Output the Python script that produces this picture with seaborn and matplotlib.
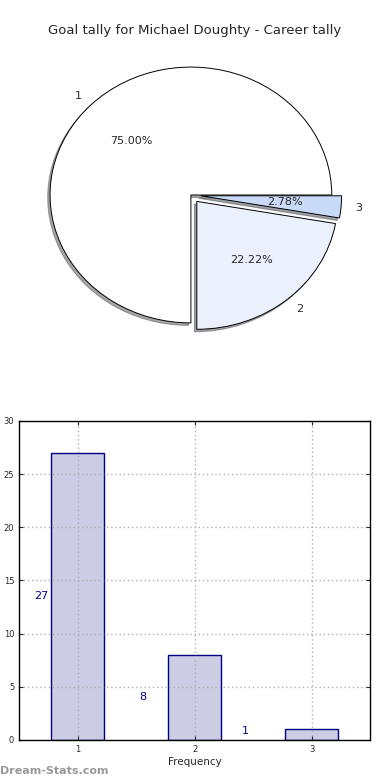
import matplotlib
matplotlib.use("Agg")
import matplotlib.pyplot as plt
import pandas as pd
import seaborn as sns

# goals scored in a match and how many matches
goals = [1, 2, 3]
matches = [27, 8, 1]
pie_labels = ["1", "2", "3"]
pie_colors = ["#ffffff", "#eaf0fc", "#c9daf8"]
explode = [0, 0.065, 0.07]

title = "Goal tally for Michael Doughty - Career tally"

sns.set_style("white")
plt.rcParams["font.family"] = ["DejaVu Sans"]

fig = plt.figure(figsize=(3.9, 7.8), dpi=100)

# pie on top
ax1 = fig.add_axes([0.038, 0.545, 0.903, 0.41])
wedges, texts, autotexts = ax1.pie(
    matches, labels=pie_labels, colors=pie_colors, explode=explode,
    autopct="%.2f%%", startangle=0,
    shadow={"ox": -0.012, "oy": -0.014, "shade": 0.7},
    wedgeprops={"edgecolor": "black", "linewidth": 0.7},
    textprops={"fontsize": 8},
)
ax1.set_aspect("auto")
ax1.set_xlim(-1.25, 1.25)
ax1.set_ylim(-1.25, 1.25)
fig.text(0.5, 0.961, title, ha="center", va="center", fontsize=9.5)

# bar chart below
ax2 = fig.add_axes([0.049, 0.0513, 0.9, 0.409])
df = pd.DataFrame({"goals": goals, "matches": matches})
sns.barplot(data=df, x="goals", y="matches", native_scale=True, width=0.45,
            color="#ccccE5", edgecolor="#000080", linewidth=1, saturation=1,
            ax=ax2, zorder=2)
ax2.set_xlim(0.5, 3.5)
ax2.set_ylim(0, 30)
ax2.set_xticks(goals)
ax2.set_yticks(range(0, 31, 5))
ax2.tick_params(labelsize=6, direction="in", length=3, top=True, right=True,
                bottom=True, left=True)
ax2.grid(True, linestyle=(0, (1, 2)), color="#b0b0b0", linewidth=1)
ax2.set_axisbelow(False)
for sp in ax2.spines.values():
    sp.set_color("black")
    sp.set_linewidth(1)
    sp.set_zorder(4)
ax2.set_xlabel("Frequency", fontsize=7.5, labelpad=2)
ax2.set_ylabel("")
fig.text(-0.012, 0.257, "Goals in Match", rotation=90, ha="center",
         va="center", fontsize=7.5)

for i, (g, m) in enumerate(zip(goals, matches)):
    ax2.text(g - 0.31 - 0.13 * i, m / 2 + (0.35 if i == 2 else 0), str(m),
             color="#00008b", fontsize=8, ha="center", va="center")

fig.text(0.0, 0.012, "Dream-Stats.com", color="#999999", fontsize=8,
         fontweight="bold", ha="left", va="center")

fig.savefig("out.png", dpi=100)
